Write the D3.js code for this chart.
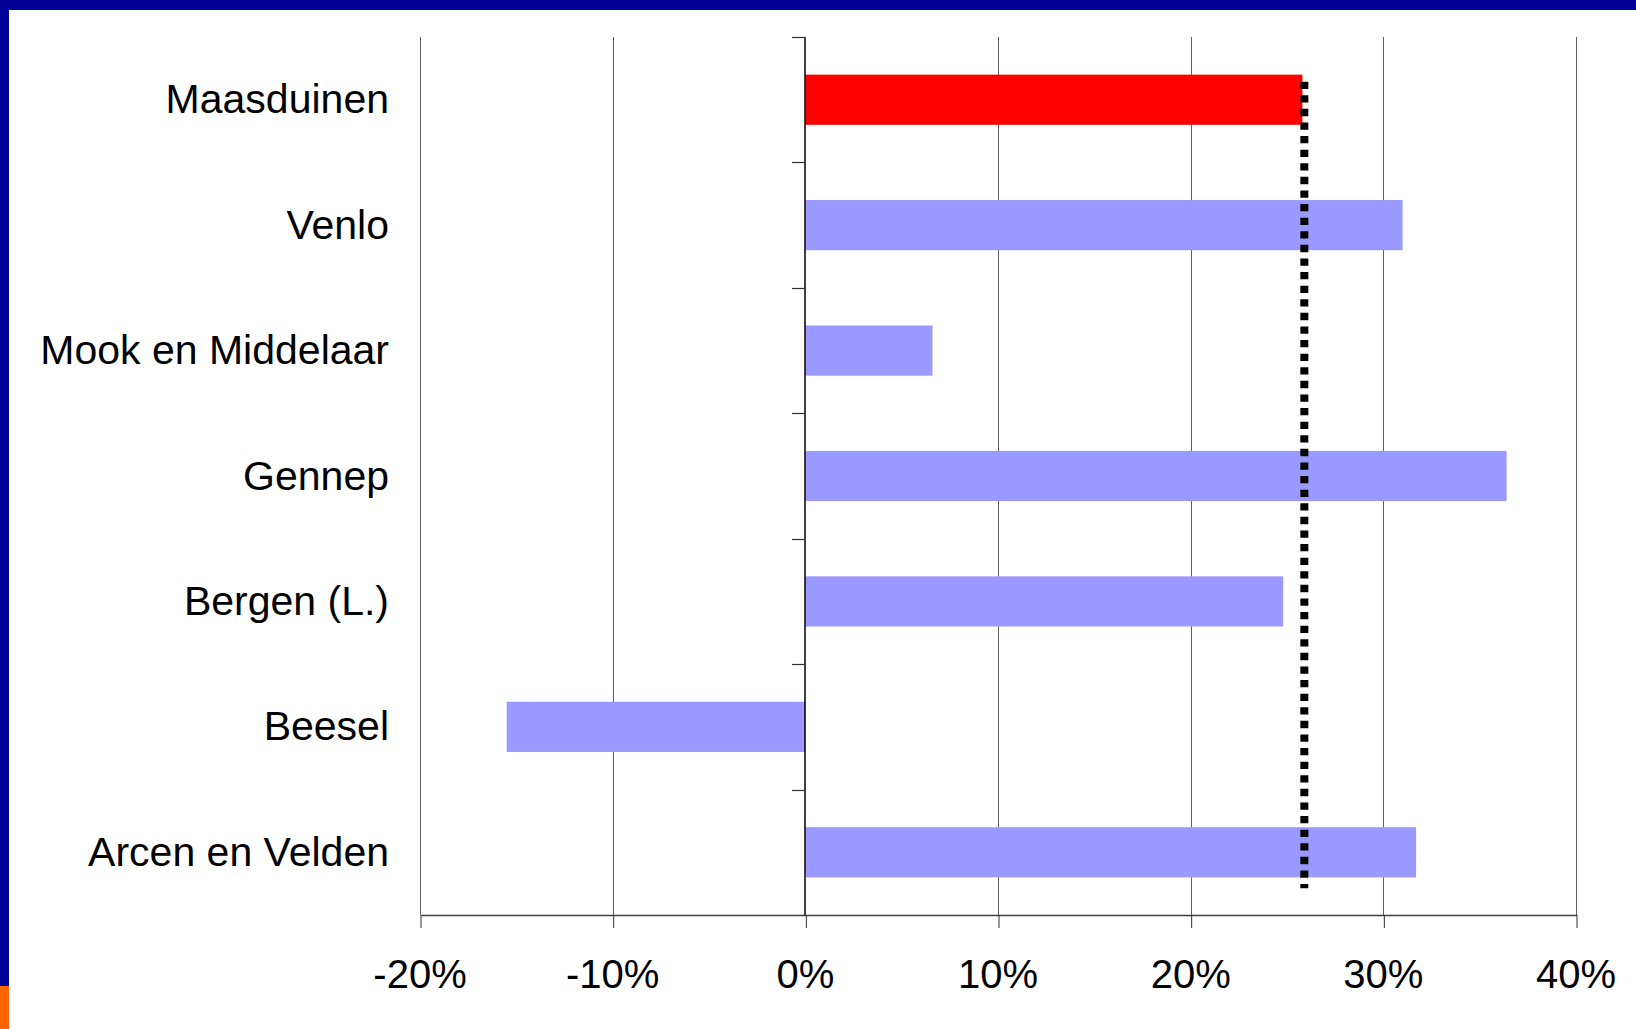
<!DOCTYPE html>
<html>
<head>
<meta charset="utf-8">
<script src="https://cdn.jsdelivr.net/npm/d3@7"></script>
<style>
  html, body { margin: 0; padding: 0; background: #fff; }
  svg { display: block; }
  text { font-family: "Liberation Sans", Arial, sans-serif; }
</style>
</head>
<body>
<div id="chart"></div>
<script>
const categories = ["Maasduinen", "Venlo", "Mook en Middelaar", "Gennep", "Bergen (L.)", "Beesel", "Arcen en Velden"];
const values = [0.258, 0.310, 0.066, 0.364, 0.248, -0.155, 0.317];
const highlight = ["Maasduinen"];
const referenceValue = 0.259;
const xTicks = [-0.2, -0.1, 0, 0.1, 0.2, 0.3, 0.4];
const xTickLabels = ["-20%", "-10%", "0%", "10%", "20%", "30%", "40%"];

const W = 1636, H = 1029;
const svg = d3.select("#chart").append("svg").attr("width", W).attr("height", H);

// frame decorations
svg.append("rect").attr("x", 0).attr("y", 0).attr("width", W).attr("height", 10).attr("fill", "#000099");
svg.append("rect").attr("x", 0).attr("y", 0).attr("width", 9).attr("height", 986).attr("fill", "#000099");
svg.append("rect").attr("x", 0).attr("y", 986).attr("width", 9).attr("height", H - 986).attr("fill", "#FF6600");

const plot = { left: 420, right: 1576, top: 37, bottom: 915 };

const x = d3.scaleLinear().domain([-0.2, 0.4]).range([plot.left, plot.right]);
const y = d3.scaleBand().domain(categories).range([plot.top, plot.bottom]).paddingInner(0.6).paddingOuter(0.3);

// vertical gridlines
svg.append("g").selectAll("line").data(xTicks.filter(d => d !== 0)).join("line")
  .attr("x1", d => Math.round(x(d)) + 0.5).attr("x2", d => Math.round(x(d)) + 0.5)
  .attr("y1", plot.top).attr("y2", plot.bottom)
  .attr("stroke", "#606060").attr("stroke-width", 1);

// x axis
const xAxis = d3.axisBottom(x).tickValues(xTicks).tickFormat((d, i) => xTickLabels[i]).tickSize(13).tickSizeOuter(0);
const gx = svg.append("g").attr("transform", `translate(0.5,${plot.bottom})`).call(xAxis);
gx.select(".domain").attr("stroke", "#404040").attr("stroke-width", 1.5);
gx.selectAll(".tick line").attr("stroke", "#303030");
gx.selectAll(".tick text").attr("font-size", 40).attr("fill", "#000").attr("y", 0).attr("dy", 0)
  .attr("transform", "translate(-1,73)").attr("font-family", "'Liberation Sans', Arial, sans-serif");

// bars
svg.append("g").selectAll("rect").data(categories).join("rect")
  .attr("x", (d, i) => x(Math.min(0, values[i])))
  .attr("y", d => y(d))
  .attr("width", (d, i) => Math.abs(x(values[i]) - x(0)))
  .attr("height", y.bandwidth())
  .attr("fill", d => highlight.includes(d) ? "#FF0000" : "#9999FF");

// y axis line (at 0) with category boundary ticks on left
const x0 = Math.round(x(0));
svg.append("line").attr("x1", x0).attr("x2", x0).attr("y1", plot.top).attr("y2", plot.bottom)
  .attr("stroke", "#000").attr("stroke-width", 1.5);
const boundaries = d3.range(categories.length + 1).map(i => plot.top + i * y.step());
svg.append("g").selectAll("line").data(boundaries.slice(0, -1)).join("line")
  .attr("x1", x0 - 13).attr("x2", x0).attr("y1", d => Math.round(d) + 0.5).attr("y2", d => Math.round(d) + 0.5)
  .attr("stroke", "#303030").attr("stroke-width", 1.2);

// category labels
svg.append("g").selectAll("text").data(categories).join("text")
  .attr("x", 389).attr("y", d => y(d) + y.bandwidth() / 2).attr("dy", "0.33em")
  .attr("text-anchor", "end").attr("font-size", 41).attr("fill", "#000").text(d => d);

// dotted reference line
const yFirst = y(categories[0]);
const yLast = y(categories[categories.length - 1]) + y.bandwidth();
svg.append("line")
  .attr("x1", x(referenceValue)).attr("x2", x(referenceValue))
  .attr("y1", yFirst + 7).attr("y2", yLast + 11)
  .attr("stroke", "#000").attr("stroke-width", 8)
  .attr("stroke-dasharray", "7.3,6.3");
</script>
</body>
</html>
